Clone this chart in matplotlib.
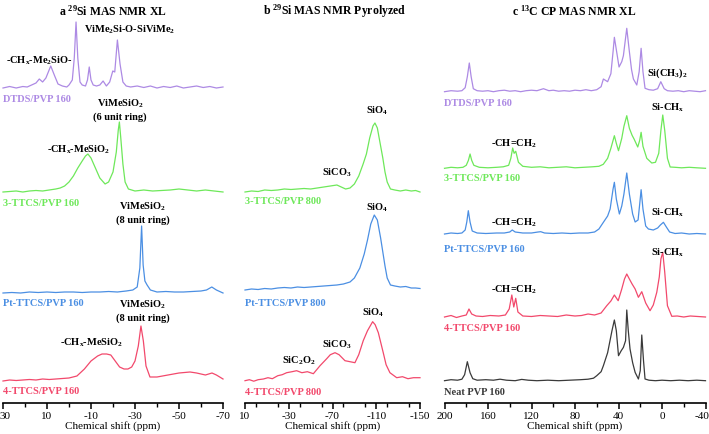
import matplotlib
matplotlib.use("Agg")
import matplotlib.pyplot as plt
from matplotlib.ticker import MultipleLocator, FixedLocator
from matplotlib.transforms import ScaledTranslation

plt.rcParams['font.family'] = ['Liberation Serif', 'DejaVu Serif']
plt.rcParams['mathtext.fontset'] = 'custom'
plt.rcParams['mathtext.rm'] = 'Liberation Serif'
plt.rcParams['mathtext.bf'] = 'Liberation Serif:bold'
plt.rcParams['mathtext.it'] = 'Liberation Serif:italic'

# ---------------- data (chemical shift ppm, intensity in arbitrary units) ----------------
# Panel a: 29Si MAS NMR XL
a_dtds_ppm = [30, 27, 24, 21, 19, 17, 15, 13.5, 12, 10.5, 8.3, 6.5, 5, 3, 1, 0, -1.5, -2.4, -3.2, -4.0, -5, -6, -7.5, -8.4, -9.2, -10.0, -11, -12.5, -14, -15.5, -17, -18.5, -19.9, -20.8, -22, -23.2, -24.5, -26, -28, -31, -34, -37, -40, -43, -46, -49, -52, -55, -58, -61, -64, -67, -70]
a_dtds_int = [0, 1.5, 0, 1.5, 1, 3, 5, 9, 6, 10, 22, 12, 4, 2, 1, 3, 8, 30, 66, 30, 6, 3, 2, 8, 21, 8, 3, 2, 3, 7, 2, 6, 17, 16, 48, 24, 6, 2, 1, 2, 0.5, 2, 0, 1.5, 0.5, 2, 0, 1, 2, 0.5, 1.5, 0, 1]

a_3ttcs_ppm = [30, 27, 24, 21, 18, 15, 12, 9, 6, 4, 2, 0, -2, -4, -6, -7.5, -8.6, -10, -12, -14, -16.4, -18, -20, -21.5, -22.4, -22.9, -23.5, -24.5, -25.5, -27, -30, -34, -38, -42, -46, -50, -54, -58, -62, -66, -70]
a_3ttcs_int = [0, 0.5, 1, 0, 1, 1.5, 1, 2, 3, 4, 6, 10, 16, 24, 31, 36, 38, 34, 24, 14, 8, 10, 20, 40, 62, 70, 55, 28, 10, 3, 1, 2, 1, 1.5, 2, 3, 2, 1, 2, 1, 0]

a_ptttcs_ppm = [30, 26, 22, 18, 14, 10, 6, 2, -2, -6, -10, -14, -18, -22, -26, -29, -31, -32.2, -33, -33.7, -34.5, -35.5, -37, -40, -44, -48, -52, -56, -60, -62.5, -64.9, -67, -70]
a_ptttcs_int = [0, 0.5, 0, 1, 0.5, 1, 0.5, 1, 1, 0.5, 1, 1, 1.5, 1, 2, 3, 6, 25, 67, 28, 12, 8, 3, 1, 1.5, 1, 1, 1.5, 2, 3, 6, 3, 0]

a_4ttcs_ppm = [30, 27, 24, 21, 18, 15, 12, 9, 6, 3, 0, -3.6, -7, -10, -13, -15, -17.1, -19, -21, -23, -25, -26.8, -28.5, -30, -31.5, -32.7, -33.8, -35, -36.8, -40, -45, -50, -55, -58, -62, -65, -67, -70]
a_4ttcs_int = [0, 1, 0.5, 1, 1.5, 1, 2, 1.5, 2, 2.5, 3, 5, 12, 20, 25, 27, 27, 26, 20, 14, 12, 12, 14, 20, 35, 55, 40, 15, 4, 4, 6, 8, 9, 8, 6, 8, 6, 2]

# Panel b: 29Si MAS NMR pyrolyzed
b_3ttcs_ppm = [10, 4, -2, -8, -14, -20, -26, -32, -38, -44, -50, -56, -62, -68, -74, -78, -82, -86, -90, -94, -98, -101, -104, -107, -108.8, -111, -114, -116, -118, -120, -123, -127, -132, -137, -142, -146, -150]
b_3ttcs_int = [0, 1, 0.5, 2, 1.5, 2, 3, 2.5, 3, 3.5, 3, 4, 5, 6, 7, 5, 3, 4, 8, 16, 28, 38, 54, 66, 69, 64, 46, 34, 20, 10, 3, 2, 1, 2, 1, 1.5, 0]

b_ptttcs_ppm = [10, 4, -2, -8, -14, -20, -26, -32, -38, -44, -50, -56, -62, -68, -74, -80, -86, -90, -95, -99, -102, -105, -108.2, -111, -114, -116, -118, -120, -123, -127, -132, -137, -142, -146, -150]
b_ptttcs_int = [0, 1, 0.5, 1.5, 1, 2, 2.5, 2, 3, 2.5, 3, 3.5, 4, 4.5, 5, 6, 8, 12, 22, 36, 50, 66, 75, 70, 52, 38, 24, 12, 5, 4, 3, 3.5, 2, 2, 1.5]

b_4ttcs_ppm = [10, 6, 2, -2, -6.8, -11, -15, -20, -24, -28.1, -33, -37.2, -42, -47, -52.5, -58.6, -64.7, -68, -72.3, -76, -81.4, -86, -90.5, -94, -98.1, -102, -106.7, -109, -111.9, -116.4, -119, -122.5, -128.7, -134, -139, -144, -150]
b_4ttcs_int = [0, 1, -0.5, 1, 1.7, 3, 2, 5, 6, 8, 9, 10, 8, 9, 7, 15, 22, 26, 28, 26, 20, 19, 18, 26, 40, 50, 59, 56, 48, 28, 16, 8, 3, 4, 2, 3, 3]

# Panel c: 13C CP MAS NMR XL
c_dtds_ppm = [200, 194, 188, 184, 181, 179, 177.2, 175.5, 173.5, 170, 165, 160, 155, 150, 145, 140, 135, 130, 125, 120, 115, 109, 104, 100, 95, 90, 85, 80, 75, 70, 65, 60, 56, 53.9, 50, 47, 45, 43.8, 42, 39.5, 37, 35.5, 32.4, 30, 28, 26.3, 23.2, 21, 19.2, 17.5, 15.6, 12, 8, 4, 1.1, -2, -5, -10, -15, -20, -25, -30, -35, -40]
c_dtds_int = [0, 1, 0.5, 1, 4, 15, 28.7, 15, 3, 1, 0.5, 1, 0, 1, 1.5, 0.5, 1, 0, 1, 1.5, 1, 3, 1, 1.5, 0.5, 1, 0.5, 1.5, 1, 2, 1, 2, 5, 12.7, 10, 18, 40, 54.4, 42, 24.7, 30, 36, 63.4, 40, 22, 12.7, 6.7, 20, 43.4, 20, 3.4, 2, 1.5, 3, 10, 3, 1, 0.5, 1, 0, 1, 0.5, 0, 1]

c_3ttcs_ppm = [200, 194, 188, 183, 180, 178, 176.5, 175, 173, 168, 160, 152, 146, 141, 139, 137.3, 136, 134.5, 132, 128, 120, 112, 104, 96, 88, 80, 72, 64, 58, 54, 50, 47, 43.8, 42, 40, 37, 35, 32.4, 30, 27.5, 25.7, 22.3, 20.5, 19.2, 17.5, 14, 9.4, 6, 3, 1, -0.7, -2.5, -5, -7.5, -12, -18, -25, -32, -40]
c_3ttcs_int = [0, 1, 0.5, 1, 3, 8, 14.3, 8, 3, 1, 0.5, 1, 1.5, 3, 10, 20.3, 15, 17, 6, 2, 1, 1.5, 0.5, 1, 1.5, 0.5, 1, 1.5, 2, 4, 10, 20, 32.6, 25, 17.6, 30, 42, 52.6, 40, 33, 29.3, 21.3, 28, 36, 22, 10, 5.3, 6, 15, 38, 53.3, 38, 10, 1.3, 1, 0.5, 1, 0.5, 0]

c_ptttcs_ppm = [200, 194, 188, 184, 181, 179.5, 178.1, 176.5, 174.5, 170, 162, 152, 145, 140, 137.7, 135, 128, 120, 114, 111.5, 108, 100, 92, 84, 76, 68, 62, 58, 53.9, 50, 47.7, 45, 43.8, 42, 39.2, 37, 35, 32.4, 30, 27, 24.7, 22, 20.5, 19.2, 17.5, 15, 12.5, 8, 4, 1.5, -1.3, -4, -7, -12, -18, -25, -32, -40]
c_ptttcs_int = [0, 1, 0.5, 1, 4, 12, 23.3, 12, 3, 1, 0.5, 1, 1, 2, 4, 2, 1, 1, 2, 2.3, 1, 0.5, 1, 0.5, 1, 1, 2, 5, 11.7, 18, 25, 45, 51.7, 35, 20, 28, 40, 61, 40, 20, 12, 14, 30, 44.3, 25, 8, 5, 4, 6, 9, 11.7, 7, 2, 0.5, 1, 0, 0.5, 0]

c_4ttcs_ppm = [200, 194, 189, 184, 180, 177.5, 175, 171, 165, 158, 150, 144, 140.5, 138.1, 136.3, 134.5, 132.5, 128, 120, 112, 104, 96, 88, 80, 74, 68, 62, 56, 50.8, 47, 43.8, 40.3, 37, 34.5, 32.4, 30, 27.5, 24.7, 21.7, 18.6, 15, 11, 8, 4.8, 2.5, 1, -0.7, -2.5, -5, -9, -14, -20, -26, -33, -40]
c_4ttcs_int = [0, 1.5, -0.5, 1, 2, 8, 3, 1, 0.5, 1.5, 1, 2, 8, 22, 10, 18.7, 5, 1, 0.5, 1.5, 1, 0.5, 2, 1, 1.5, 3, 2, 4, 11.3, 16, 22, 16.3, 28, 38, 43, 38, 33, 28, 19.7, 25.3, 14, 6.3, 12, 24.7, 40, 58, 64.7, 45, 11.3, 0.7, 1, 0, 1, 0.5, 0]

c_neat_ppm = [200, 194, 188, 184, 181.5, 179, 176.5, 174, 170, 162, 155, 149, 143, 135, 129, 123, 115, 105, 95, 85, 75, 68, 63, 60, 56, 53.9, 50, 46, 43.8, 42, 40, 37.5, 35.5, 33.5, 32.4, 31, 29.4, 27, 24.7, 21.7, 20, 18.6, 17, 15.6, 12, 6, 0, -8, -16, -24, -32, -40]
c_neat_int = [0, 1, 0.5, 1.5, 6, 19, 8, 2, 0.5, 1, 0.5, 1.5, 0.5, 0, 1.3, 0.5, 0, 0.5, 0, 0.5, 1, 1.5, 2.5, 5, 9, 15, 28, 50, 60.7, 50, 25, 30, 33.3, 40, 70.7, 50, 31.7, 18, 8.3, 1.7, 10, 45.7, 20, 1.7, 0.5, 0, 0.5, 0, 0.5, 0, 0.5, 0]

# tick labels
a_ticks = [30, 10, -10, -30, -50, -70]
b_ticks = [10, -30, -70, -110, -150]
c_ticks = [200, 160, 120, 80, 40, 0, -40]

# ---------------- style / layout ----------------
PURPLE = '#ad8ae4'
GREEN = '#6ee85a'
BLUE = '#4b8fe3'
RED = '#f2496c'
BLACK = '#3a3a3a'

W, H = 709, 435
fig = plt.figure(figsize=(W / 100, H / 100), dpi=100)


def make_ax(left_px, width_px, xlim, ticks, minor):
    ax = fig.add_axes([left_px / W, 31 / H, width_px / W, 384 / H])
    ax.set_xlim(*xlim)
    ax.set_ylim(0, 384)
    for s in ('left', 'right', 'top'):
        ax.spines[s].set_visible(False)
    ax.spines['bottom'].set_linewidth(1.2)
    ax.set_yticks([])
    ax.xaxis.set_major_locator(FixedLocator(ticks))
    ax.set_xticklabels([str(t) for t in ticks])
    ax.xaxis.set_minor_locator(MultipleLocator(minor))
    ax.tick_params(axis='x', which='major', length=4, width=1.1, labelsize=8, pad=1.5)
    ax.tick_params(axis='x', which='minor', length=3, width=1.0)
    ax.set_xlabel('Chemical shift (ppm)', fontsize=8, labelpad=0)
    ax.patch.set_alpha(0)
    return ax


def trace(ax, x, y, off, color):
    ax.plot(x, [v + off for v in y], color=color, lw=0.9, clip_on=False)


def lab(ax, x, y, s, color='black', ha='center'):
    ax.text(x, y, s, color=color, ha=ha, va='center', fontsize=7.5, fontweight='bold')


axa = make_ax(3, 220, (30, -70), a_ticks, 10)
axb = make_ax(245, 175, (10, -150), b_ticks, 20)
axc = make_ax(444.5, 261, (200, -40), c_ticks, 20)

# nudge the outermost tick labels inside the canvas
lbl = axa.get_xticklabels()[0]
lbl.set_transform(lbl.get_transform() + ScaledTranslation(2.5 / 100, 0, fig.dpi_scale_trans))
lbl = axc.get_xticklabels()[-1]
lbl.set_transform(lbl.get_transform() + ScaledTranslation(-3 / 100, 0, fig.dpi_scale_trans))

# Panel a
trace(axa, a_dtds_ppm, a_dtds_int, 315, PURPLE)
trace(axa, a_3ttcs_ppm, a_3ttcs_int, 211, GREEN)
trace(axa, a_ptttcs_ppm, a_ptttcs_int, 110, BLUE)
trace(axa, a_4ttcs_ppm, a_4ttcs_int, 22, RED)
lab(axa, 30, 304, 'DTDS/PVP 160', PURPLE, 'left')
lab(axa, 30, 201, '3-TTCS/PVP 160', GREEN, 'left')
lab(axa, 30, 101, 'Pt-TTCS/PVP 160', BLUE, 'left')
lab(axa, 30, 12, '4-TTCS/PVP 160', RED, 'left')
lab(axa, 13.4, 343, r'-CH$_\mathbf{x}$-Me$_\mathbf{2}$SiO-')
lab(axa, -27.7, 374, r'ViMe$_\mathbf{2}$Si-O-SiViMe$_\mathbf{2}$')
lab(axa, -23.2, 300, r'ViMeSiO$_\mathbf{2}$')
lab(axa, -23.2, 287, '(6 unit ring)')
lab(axa, -4.3, 254, r'-CH$_\mathbf{x}$-MeSiO$_\mathbf{2}$')
lab(axa, -33.4, 197, r'ViMeSiO$_\mathbf{2}$')
lab(axa, -33.4, 184, '(8 unit ring)')
lab(axa, -33.4, 99, r'ViMeSiO$_\mathbf{2}$')
lab(axa, -33.4, 86, '(8 unit ring)')
lab(axa, -10.2, 61, r'-CH$_\mathbf{x}$-MeSiO$_\mathbf{2}$')

# Panel b
trace(axb, b_3ttcs_ppm, b_3ttcs_int, 211, GREEN)
trace(axb, b_ptttcs_ppm, b_ptttcs_int, 113, BLUE)
trace(axb, b_4ttcs_ppm, b_4ttcs_int, 22.3, RED)
lab(axb, 10, 202, '3-TTCS/PVP 800', GREEN, 'left')
lab(axb, 10, 101, 'Pt-TTCS/PVP 800', BLUE, 'left')
lab(axb, 10, 11, '4-TTCS/PVP 800', RED, 'left')
lab(axb, -110.7, 293, r'SiO$_\mathbf{4}$')
lab(axb, -73.6, 231, r'SiCO$_\mathbf{3}$')
lab(axb, -110.7, 196, r'SiO$_\mathbf{4}$')
lab(axb, -107, 91, r'SiO$_\mathbf{4}$')
lab(axb, -73.6, 59, r'SiCO$_\mathbf{3}$')
lab(axb, -39.4, 43, r'SiC$_\mathbf{2}$O$_\mathbf{2}$')

# Panel c
trace(axc, c_dtds_ppm, c_dtds_int, 311.3, PURPLE)
trace(axc, c_3ttcs_ppm, c_3ttcs_int, 234.7, GREEN)
trace(axc, c_ptttcs_ppm, c_ptttcs_int, 169, BLUE)
trace(axc, c_4ttcs_ppm, c_4ttcs_int, 86, RED)
trace(axc, c_neat_ppm, c_neat_int, 22.3, BLACK)
lab(axc, 200, 301, 'DTDS/PVP 160', PURPLE, 'left')
lab(axc, 200, 225.5, '3-TTCS/PVP 160', GREEN, 'left')
lab(axc, 200, 154, 'Pt-TTCS/PVP 160', BLUE, 'left')
lab(axc, 200, 75, '4-TTCS/PVP 160', RED, 'left')
lab(axc, 200, 11, 'Neat PVP 160', BLACK, 'left')
lab(axc, -5.2, 331, r'Si(CH$_\mathbf{3}$)$_\mathbf{2}$')
lab(axc, -5.6, 296, r'Si-CH$_\mathbf{x}$')
lab(axc, 136.5, 260.5, r'-CH=CH$_\mathbf{2}$')
lab(axc, -5.6, 191, r'Si-CH$_\mathbf{x}$')
lab(axc, 136.5, 181, r'-CH=CH$_\mathbf{2}$')
lab(axc, -5.6, 151, r'Si-CH$_\mathbf{x}$')
lab(axc, 136.5, 114, r'-CH=CH$_\mathbf{2}$')

# titles
fig.text(113 / W, 1 - 11 / H, r'a $^{\mathbf{29}}$Si MAS NMR XL', ha='center', va='center', fontsize=8.5, fontweight='bold')
fig.text(335 / W, 1 - 11 / H, r'b $^{\mathbf{29}}$Si MAS NMR Pyrolyzed', ha='center', va='center', fontsize=8.5, fontweight='bold')
fig.text(574 / W, 1 - 11 / H, r'c $^{\mathbf{13}}$C CP MAS NMR XL', ha='center', va='center', fontsize=8.5, fontweight='bold')

fig.savefig('out.png', dpi=100, facecolor='white')
